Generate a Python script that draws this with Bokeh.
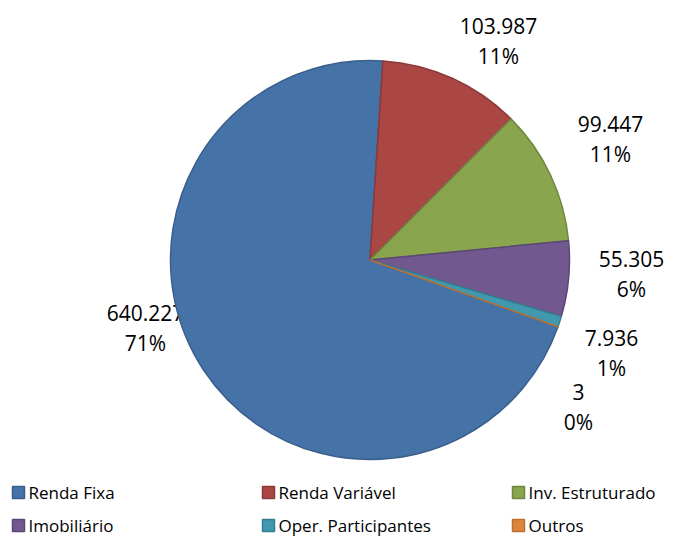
import math
from bokeh.plotting import figure
from bokeh.models import Range1d, ColumnDataSource
from bokeh.core.properties import value
from bokeh.embed import file_html
from bokeh.resources import INLINE

# ---- data ----
categories = ["Renda Fixa", "Renda Variável", "Inv. Estruturado", "Imobiliário", "Oper. Participantes", "Outros"]
values = [640227, 103987, 99447, 55305, 7936, 3]
value_labels = ["640.227", "103.987", "99.447", "55.305", "7.936", "3"]

# ---- style ----
fills = ["#4572A7", "#AA4643", "#89A54E", "#71588F", "#4198AF", "#DB843D"]
edges = ["#3A5F8C", "#8C3A37", "#6F8740", "#5B4775", "#357E90", "#C0702E"]
W, H = 681, 538
first_angle = 109.56  # degrees clockwise from 12 o'clock
cx, cy, R = 369.5, 538 - 259.5, 199.5
# label block centres (canvas px, y down from top)
lab_pos = [(145, 327), (498, 40), (610, 138), (631, 273), (611, 352), (578, 406)]
FONT = "Open Sans"

p = figure(width=W, height=H, output_backend="svg", toolbar_location=None,
           x_range=Range1d(0, W), y_range=Range1d(0, H), min_border=0)
p.axis.visible = False
p.grid.visible = False
p.outline_line_color = None
p.background_fill_color = "white"

total = sum(values)
starts, ends, vlab, plab, lx, ly1, ly2 = [], [], [], [], [], [], []
a = first_angle
for i, v in enumerate(values):
    sweep = 360.0 * v / total
    starts.append(math.radians(90 - a))
    ends.append(math.radians(90 - (a + sweep)))
    a += sweep
    pct = f"{round(100 * v / total):.0f}%"
    vlab.append(value_labels[i])
    plab.append(pct)
    x, y = lab_pos[i]
    lx.append(x)
    ly1.append(H - (y - 15))
    ly2.append(H - (y + 15))

# labels first (so the pie may cover them, as in the reference)
lsrc = ColumnDataSource(dict(x=lx, y1=ly1, y2=ly2, v=vlab, pc=plab))
p.text(x="x", y="y1", text="v", source=lsrc, text_align="center", text_baseline="middle",
       text_font=value(FONT), text_font_size="21px", text_color="black")
p.text(x="x", y="y2", text="pc", source=lsrc, text_align="center", text_baseline="middle",
       text_font=value(FONT), text_font_size="21px", text_color="black")

wsrc = ColumnDataSource(dict(s=starts, e=ends, f=fills, l=edges))
p.wedge(x=cx, y=cy, radius=R, start_angle="s", end_angle="e", direction="clock",
        fill_color="f", line_color="l", line_width=1.5, source=wsrc)

# legend (manual)
col_x = [18, 268, 518]
row_y = [492, 525]
sq_x, sq_y, tx, ty = [], [], [], []
for i in range(len(categories)):
    c = col_x[i % 3]
    r = row_y[i // 3]
    sq_x.append(c)
    sq_y.append(H - r)
    tx.append(c + 10)
    ty.append(H - r)
gsrc = ColumnDataSource(dict(x=sq_x, y=sq_y, tx=tx, ty=ty, f=fills, l=edges, t=categories))
p.rect(x="x", y="y", width=12, height=12, fill_color="f", line_color="l", line_width=1.5, source=gsrc)
p.text(x="tx", y="ty", text="t", source=gsrc, text_align="left", text_baseline="middle",
       text_font=value(FONT), text_font_size="17px", text_color="black")

open("out.html", "w").write(file_html(p, INLINE))
